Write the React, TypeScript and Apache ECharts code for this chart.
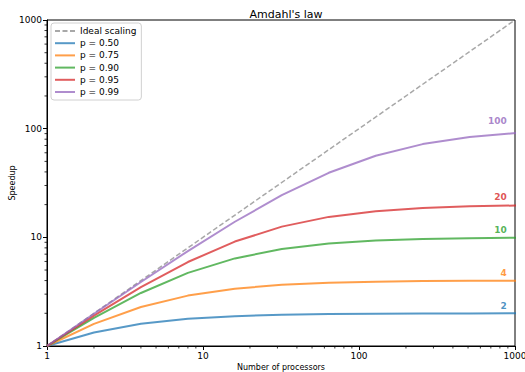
import React, { useEffect, useRef } from "react";
import * as echarts from "echarts";

const processors = [1, 2, 4, 8, 16, 32, 64, 128, 256, 512, 1024];
const speedup050 = [1, 1.333, 1.6, 1.778, 1.882, 1.939, 1.969, 1.984, 1.992, 1.996, 1.998];
const speedup075 = [1, 1.6, 2.286, 2.909, 3.368, 3.657, 3.821, 3.908, 3.954, 3.977, 3.988];
const speedup090 = [1, 1.818, 3.077, 4.706, 6.4, 7.805, 8.767, 9.343, 9.66, 9.827, 9.913];
const speedup095 = [1, 1.905, 3.478, 5.926, 9.143, 12.549, 15.422, 17.415, 18.618, 19.284, 19.636];
const speedup099 = [1, 1.98, 3.883, 7.477, 13.913, 24.427, 39.264, 56.388, 72.113, 83.795, 91.18];
const idealX = [1, 1000];
const idealY = [1, 1000];
const seriesNames = ["p = 0.50", "p = 0.75", "p = 0.90", "p = 0.95", "p = 0.99"];
const asymptotes = [2, 4, 10, 20, 100];
const minorTicks = [2, 3, 4, 5, 6, 7, 8, 9, 20, 30, 40, 50, 60, 70, 80, 90, 200, 300, 400, 500, 600, 700, 800, 900];
const tickLabels = ["1", "10", "100", "1000"];

const colors = ["#1f77b4", "#ff7f0e", "#2ca02c", "#d62728", "#9467bd"];
const FONT = "DejaVu Sans";

export default function App() {
  const ref = useRef<HTMLDivElement>(null);
  useEffect(() => {
    document.body.style.margin = "0";
    const chart = echarts.init(ref.current!, null, { renderer: "svg" });
    const allSpeedups = [speedup050, speedup075, speedup090, speedup095, speedup099];
    const lineSeries = allSpeedups.map((arr, i) => ({
      name: seriesNames[i],
      type: "line",
      data: processors.map((n, j) => [n, arr[j]]),
      showSymbol: false,
      symbol: "none",
      clip: true,
      lineStyle: { color: colors[i], width: 2, opacity: 0.75 },
      itemStyle: { color: colors[i], opacity: 0.75 },
      z: 3,
    }));
    const LABEL_X = 885;
    const LABEL_Y_FACTOR = 1.17;
    const option: any = {
      animation: false,
      textStyle: { fontFamily: FONT },
      title: {
        text: "Amdahl's law",
        left: 281,
        textAlign: "center",
        top: 4,
        textStyle: { fontFamily: FONT, fontSize: 11, fontWeight: "normal", color: "#000" },
      },
      grid: {
        left: 47,
        right: 10,
        top: 20,
        bottom: 26,
        outerBoundsMode: "none",
        containLabel: false,
        show: true,
        borderColor: "#000",
        borderWidth: 1,
        backgroundColor: "transparent",
      },
      legend: {
        orient: "vertical",
        left: 51,
        top: 23,
        data: ["Ideal scaling", ...seriesNames],
        itemWidth: 20,
        itemHeight: 8,
        itemGap: 2.2,
        padding: [3, 5, 3, 3],
        backgroundColor: "rgba(255,255,255,0.8)",
        borderColor: "#d0d0d0",
        borderWidth: 1,
        borderRadius: 3,
        itemStyle: { opacity: 0, borderWidth: 0 },
        textStyle: { fontFamily: FONT, fontSize: 9, color: "#000", lineHeight: 10 },
      },
      xAxis: {
        type: "log",
        logBase: 10,
        min: 1,
        max: 1000,
        name: "Number of processors",
        nameLocation: "middle",
        nameGap: 17,
        nameMoveOverlap: false,
        nameTextStyle: { fontFamily: FONT, fontSize: 8, color: "#000" },
        axisLine: { lineStyle: { color: "#000", width: 1 } },
        axisTick: { inside: false, length: 4, lineStyle: { color: "#000" } },
        axisLabel: {
          fontFamily: FONT,
          fontSize: 9,
          color: "#000",
          margin: 5,
          formatter: (v: number) => tickLabels[Math.round(Math.log10(v))] ?? String(v),
        },
        splitLine: { show: false },
      },
      yAxis: {
        type: "log",
        logBase: 10,
        min: 1,
        max: 1000,
        name: "Speedup",
        nameLocation: "middle",
        nameGap: 31,
        nameMoveOverlap: false,
        nameTextStyle: { fontFamily: FONT, fontSize: 8, color: "#000" },
        axisLine: { lineStyle: { color: "#000", width: 1 } },
        axisTick: { inside: false, length: 4, lineStyle: { color: "#000" } },
        axisLabel: {
          fontFamily: FONT,
          fontSize: 9,
          color: "#000",
          margin: 5,
          formatter: (v: number) => tickLabels[Math.round(Math.log10(v))] ?? String(v),
        },
        splitLine: { show: false },
      },
      series: [
        {
          name: "Ideal scaling",
          type: "line",
          data: idealX.map((x, i) => [x, idealY[i]]),
          showSymbol: false,
          symbol: "none",
          lineStyle: { color: "#a8a8a8", width: 1.5, type: [5, 2.5] },
          itemStyle: { color: "#a8a8a8" },
          z: 2,
        },
        ...lineSeries,
        {
          name: "asymptotes",
          type: "scatter",
          symbolSize: 0,
          silent: true,
          data: asymptotes.map((a, i) => ({
            value: [LABEL_X, a * LABEL_Y_FACTOR],
            label: { color: colors[i] },
          })),
          label: {
            show: true,
            position: "inside",
            align: "right",
            verticalAlign: "middle",
            fontFamily: FONT,
            fontSize: 9,
            fontWeight: "bold",
            formatter: (p: any) => String(asymptotes[p.dataIndex]),
          },
          z: 5,
        },
        {
          name: "xMinor",
          type: "custom",
          silent: true,
          data: minorTicks.map((v) => [v, 1]),
          renderItem: (params: any, api: any) => {
            const pt = api.coord([api.value(0), 1]);
            return {
              type: "line",
              shape: { x1: pt[0], y1: pt[1], x2: pt[0], y2: pt[1] + 2.5 },
              style: { stroke: "#000", lineWidth: 0.8 },
            };
          },
        },
        {
          name: "yMinor",
          type: "custom",
          silent: true,
          data: minorTicks.map((v) => [1, v]),
          renderItem: (params: any, api: any) => {
            const pt = api.coord([1, api.value(1)]);
            return {
              type: "line",
              shape: { x1: pt[0], y1: pt[1], x2: pt[0] - 2.5, y2: pt[1] },
              style: { stroke: "#000", lineWidth: 0.8 },
            };
          },
        },
      ],
    };
    chart.setOption(option);
    return () => chart.dispose();
  }, []);
  return <div ref={ref} style={{ width: 525, height: 372 }} />;
}
